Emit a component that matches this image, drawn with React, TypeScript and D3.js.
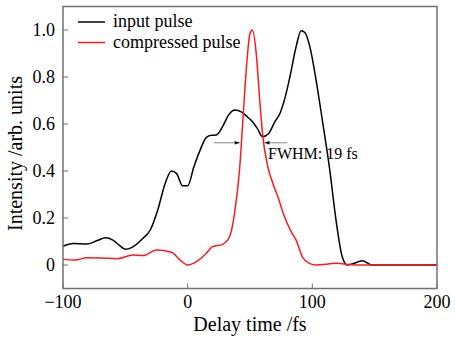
import { useMemo } from 'react'
import * as d3 from 'd3'

// input pulse
const inputTime = [-100, -92, -81, -72, -66, -60, -55, -50, -45, -36, -30, -24, -18, -13, -9, -4, 0, 5, 10, 15, 19, 23, 28, 33, 38, 43, 48, 52, 56, 60, 65, 70, 74, 78, 82, 87, 91, 94, 98, 103, 108, 114, 119, 124, 128, 132, 140, 148, 160, 200]
const inputIntensity = [0.08, 0.092, 0.089, 0.105, 0.116, 0.106, 0.085, 0.067, 0.074, 0.113, 0.149, 0.234, 0.348, 0.4, 0.39, 0.337, 0.337, 0.418, 0.489, 0.543, 0.552, 0.553, 0.589, 0.64, 0.66, 0.652, 0.63, 0.61, 0.58, 0.546, 0.56, 0.61, 0.645, 0.71, 0.8, 0.929, 0.997, 0.989, 0.929, 0.787, 0.617, 0.404, 0.191, 0.035, 0.0, 0.004, 0.018, 0.0, 0, 0]

// compressed pulse
const compTime = [-100, -90, -81, -70, -56, -44, -36, -25, -13, -6, 0, 7, 15, 20, 28, 33.6, 37.6, 41.6, 44.3, 47, 50, 52, 55, 57.6, 60.3, 64.3, 68.3, 72.3, 77.6, 83, 87, 92, 97.6, 103, 119, 135, 200]
const compIntensity = [0.025, 0.021, 0.031, 0.03, 0.027, 0.043, 0.04, 0.064, 0.054, 0.021, 0.0, 0.014, 0.05, 0.078, 0.088, 0.12, 0.22, 0.404, 0.617, 0.83, 0.986, 1.0, 0.9, 0.716, 0.546, 0.418, 0.348, 0.291, 0.206, 0.142, 0.106, 0.035, 0.007, 0, 0.007, 0, 0]

const xTicks = [-100, 0, 100, 200]
const yTicks = [0, 0.2, 0.4, 0.6, 0.8, 1.0]
const legendLabels = ['input pulse', 'compressed pulse']
const colors = ['#000000', '#ff1a1a']

// FWHM marker (fs, intensity)
const fwhmLeft = [21, 41.8]
const fwhmRight = [80, 61.6]
const fwhmLevel = 0.52
const fwhmText = 'FWHM: 19 fs'

const W = 455
const H = 339
const margin = { left: 63, right: 18, top: 6.5, bottom: 50.5 }
const font = 'Liberation Serif, serif'

const App = () => {
  const x = useMemo(() => d3.scaleLinear().domain([-100, 200]).range([margin.left, W - margin.right]), [])
  const y = useMemo(() => d3.scaleLinear().domain([-0.1, 1.1]).range([H - margin.bottom, margin.top]), [])

  const line = d3.line<[number, number]>()
    .x(d => x(d[0]))
    .y(d => y(d[1]))
    .curve(d3.curveMonotoneX)

  const inputPts = inputTime.map((t, i) => [t, inputIntensity[i]] as [number, number])
  const compPts = compTime.map((t, i) => [t, compIntensity[i]] as [number, number])

  const x0 = margin.left
  const x1 = W - margin.right
  const y0 = H - margin.bottom
  const y1 = margin.top
  const frame = '#707070'

  return (
    <svg width={W} height={H} style={{ position: 'absolute', left: 0, top: 0, background: '#fff' }}>
      <defs>
        <marker id="arr" viewBox="0 0 10 10" refX="10" refY="5" markerWidth="7" markerHeight="5" orient="auto">
          <path d="M0,1.5 L10,5 L0,8.5 z" fill="#000" />
        </marker>
      </defs>

      {/* curves */}
      <path d={line(inputPts) || ''} fill="none" stroke={colors[0]} strokeWidth={1.5} />
      <path d={line(compPts) || ''} fill="none" stroke={colors[1]} strokeWidth={1.5} />

      {/* frame */}
      <rect x={x0} y={y1} width={x1 - x0} height={y0 - y1} fill="none" stroke={frame} strokeWidth={1.5} />

      {/* y ticks */}
      {yTicks.map(t => (
        <g key={t}>
          <line x1={x0} x2={x0 + 5} y1={y(t)} y2={y(t)} stroke={frame} strokeWidth={1} />
          <text x={x0 - 8} y={y(t) + 6} textAnchor="end" style={{ fontFamily: font }} fontSize={18}>
            {t === 0 ? '0' : t.toFixed(1)}
          </text>
        </g>
      ))}

      {/* x ticks */}
      {xTicks.map(t => (
        <g key={t}>
          <line x1={x(t)} x2={x(t)} y1={y0} y2={y0 - 5} stroke={frame} strokeWidth={1} />
          <text x={x(t)} y={y0 + 19} textAnchor="middle" style={{ fontFamily: font }} fontSize={18}>
            {t < 0 ? '\u2212' + Math.abs(t) : t}
          </text>
        </g>
      ))}

      {/* axis titles */}
      <text x={(x0 + x1) / 2} y={331} textAnchor="middle" style={{ fontFamily: font }} fontSize={20}>Delay time /fs</text>
      <text transform={`translate(22,${(y0 + y1) / 2 + 6}) rotate(-90)`} textAnchor="middle" style={{ fontFamily: font }} fontSize={20}>Intensity /arb. units</text>

      {/* legend */}
      {legendLabels.map((l, i) => (
        <g key={l}>
          <line x1={78} x2={105} y1={22 + i * 20.5} y2={22 + i * 20.5} stroke={colors[i]} strokeWidth={1.5} />
          <text x={113} y={27 + i * 20.5} style={{ fontFamily: font }} fontSize={18}>{l}</text>
        </g>
      ))}

      {/* FWHM arrows */}
      <line x1={x(fwhmLeft[0])} x2={x(fwhmLeft[1])} y1={y(fwhmLevel)} y2={y(fwhmLevel)} stroke="#888" strokeWidth={1} markerEnd="url(#arr)" />
      <line x1={x(fwhmRight[0])} x2={x(fwhmRight[1])} y1={y(fwhmLevel)} y2={y(fwhmLevel)} stroke="#888" strokeWidth={1} markerEnd="url(#arr)" />
      <text x={268} y={159} style={{ fontFamily: font }} fontSize={16}>{fwhmText}</text>
    </svg>
  )
}

export default App
